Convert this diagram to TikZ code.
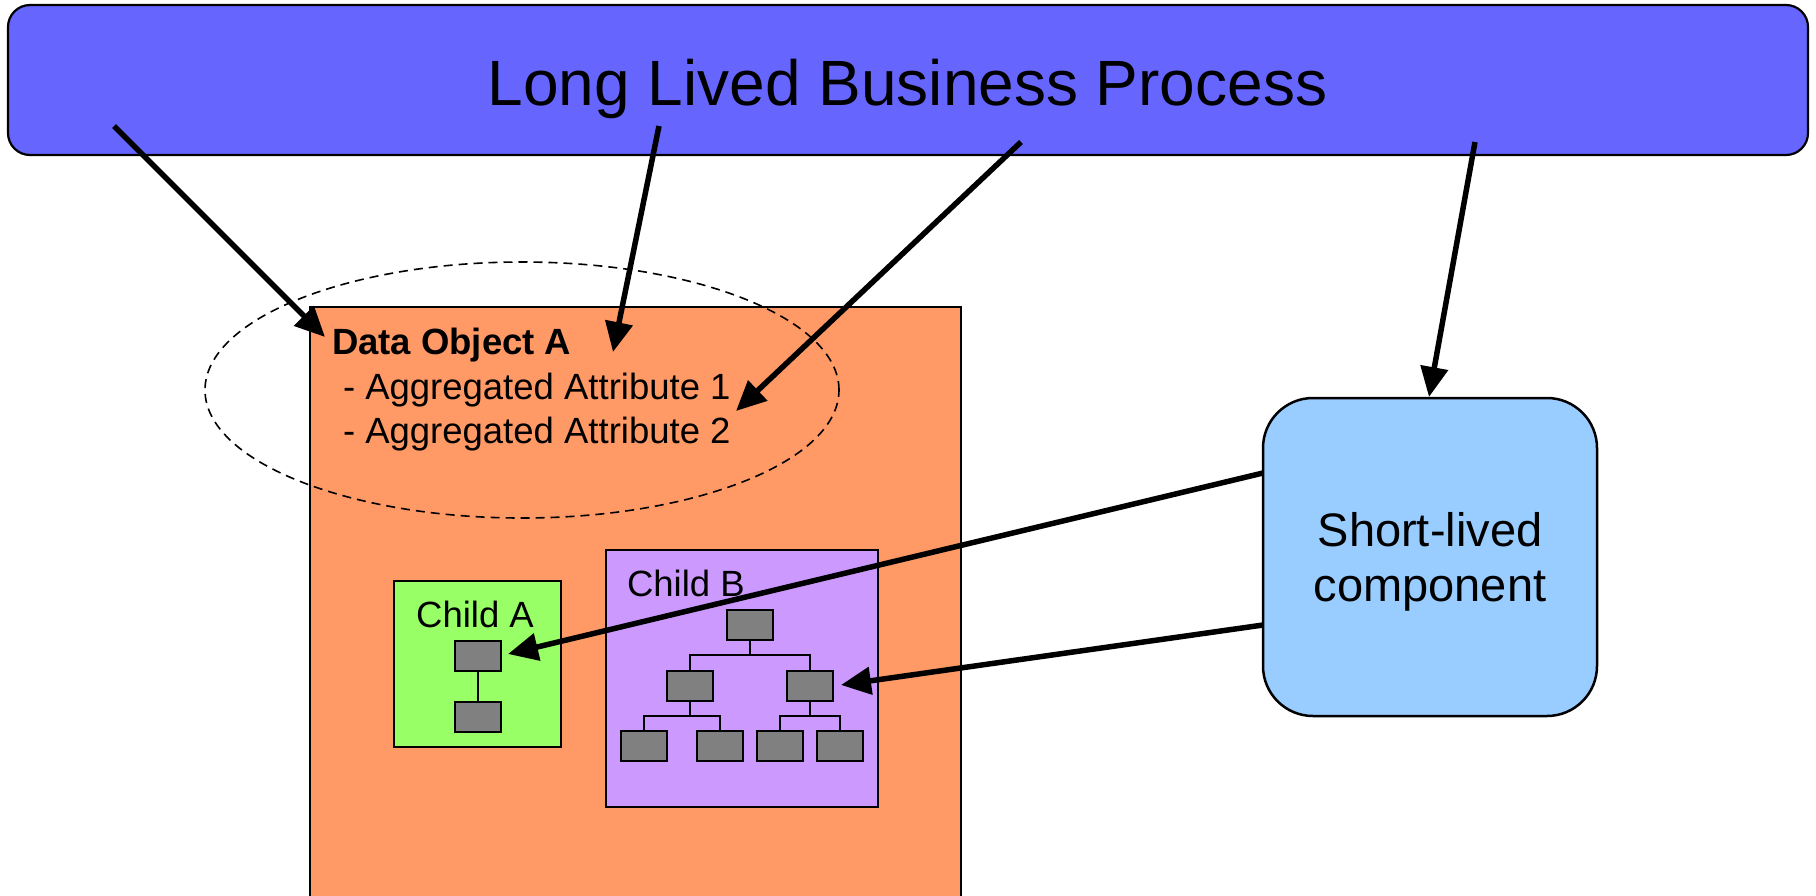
\documentclass[tikz,border=0pt]{standalone}
\usepackage{fontspec}
\setmainfont{Liberation Sans}
\usetikzlibrary{arrows.meta,shapes.geometric}
\definecolor{barblue}{HTML}{6666FF}
\definecolor{objorange}{HTML}{FF9966}
\definecolor{childgreen}{HTML}{99FF66}
\definecolor{childpurple}{HTML}{CC99FF}
\definecolor{compblue}{HTML}{99CCFF}
\definecolor{leafgray}{HTML}{808080}
\tikzset{
  box/.style={draw=black, line width=2pt, inner sep=0pt, outer sep=0pt, rectangle},
  leaf/.style={box, fill=leafgray, minimum width=46pt, minimum height=30pt},
  treeline/.style={line width=2pt},
  conn/.style={line width=5.5pt, -{Triangle[length=30pt,width=27pt]}},
  txt/.style={inner sep=0pt, outer sep=0pt, font=\fontsize{36.5}{44}\selectfont},
  bigtxt/.style={inner sep=0pt, outer sep=0pt, font=\fontsize{47}{55}\selectfont},
}
\begin{document}
\begin{tikzpicture}[x=1pt,y=-1pt]
\useasboundingbox (0,0) rectangle (1816,895);
\clip (0,0) rectangle (1816,895);
% top bar
\node[box, fill=barblue, rounded corners=22pt, line width=2.2pt, minimum width=1800pt, minimum height=150pt] (bar) at (908,80) {};
\node[inner sep=0pt, anchor=base, font=\fontsize{64}{70}\selectfont] (title) at (907.5,105) {Long Lived Business Process};
% data object
\node[box, fill=objorange, minimum width=651pt, minimum height=620pt, anchor=north west] (obj) at (310,307) {};
\node[ellipse, draw=black, line width=1.6pt, dash pattern=on 9pt off 6pt, inner sep=0pt, minimum width=634pt, minimum height=256pt] (agg) at (522,390) {};
\node[txt, anchor=base west, font=\fontsize{36.5}{44}\selectfont\bfseries] (objname) at (332,354) {Data Object A};
\node[txt, anchor=base west] (attr1) at (343,399) {- Aggregated Attribute 1};
\node[txt, anchor=base west] (attr2) at (343,443) {- Aggregated Attribute 2};
% child A
\node[box, fill=childgreen, minimum width=167pt, minimum height=166pt] (childA) at (477.5,664) {};
\node[txt, anchor=base] (childAlbl) at (475,627) {Child A};
\node[leaf] (a1) at (478,656) {};
\node[leaf] (a2) at (478,716.5) {};
\draw[treeline] (a1.south) -- (a2.north);
% child B
\node[box, fill=childpurple, minimum width=272pt, minimum height=257pt] (childB) at (742,678.5) {};
\node[txt, anchor=base west] (childBlbl) at (627,596) {Child B};
\node[leaf] (broot) at (750,625) {};
\node[leaf] (bl) at (689.5,685.5) {};
\node[leaf] (br) at (810,685.5) {};
\node[leaf] (bl1) at (644,746) {};
\node[leaf] (bl2) at (720,746) {};
\node[leaf] (br1) at (780,746) {};
\node[leaf] (br2) at (840,746) {};
\draw[treeline] (broot.south) -- ++(0,15) -| (bl.north);
\draw[treeline] (broot.south) ++(0,15) -| (br.north);
\draw[treeline] (bl.south) -- ++(0,15) -| (bl1.north);
\draw[treeline] (bl.south) ++(0,15) -| (bl2.north);
\draw[treeline] (br.south) -- ++(0,15) -| (br1.north);
\draw[treeline] (br.south) ++(0,15) -| (br2.north);
% short-lived component
\node[box, fill=compblue, rounded corners=50pt, line width=2.5pt, minimum width=334pt, minimum height=318pt] (slc) at (1430,557) {};
\node[bigtxt, anchor=base] (slc1) at (1430,546) {Short-lived};
\node[bigtxt, anchor=base] (slc2) at (1430,601) {component};
% connector ends
\coordinate (s1) at (114,126);
\coordinate (t1) at (325,337);
\coordinate (s2) at (659,126);
\coordinate (t2) at (613,352);
\coordinate (s3) at (1021,142);
\coordinate (t3) at (736,411);
\coordinate (s4) at (1475,142);
\coordinate (t4) at (1429,397);
\coordinate (s5) at (1263,473);
\coordinate (t5) at (508,654);
\coordinate (s6) at (1263,625);
\coordinate (t6) at (841,685);
\draw[conn] (s1) -- (t1);
\draw[conn] (s2) -- (t2);
\draw[conn] (s3) -- (t3);
\draw[conn] (s4) -- (t4);
\draw[conn] (s5) -- (t5);
\draw[conn] (s6) -- (t6);
\end{tikzpicture}
\end{document}
